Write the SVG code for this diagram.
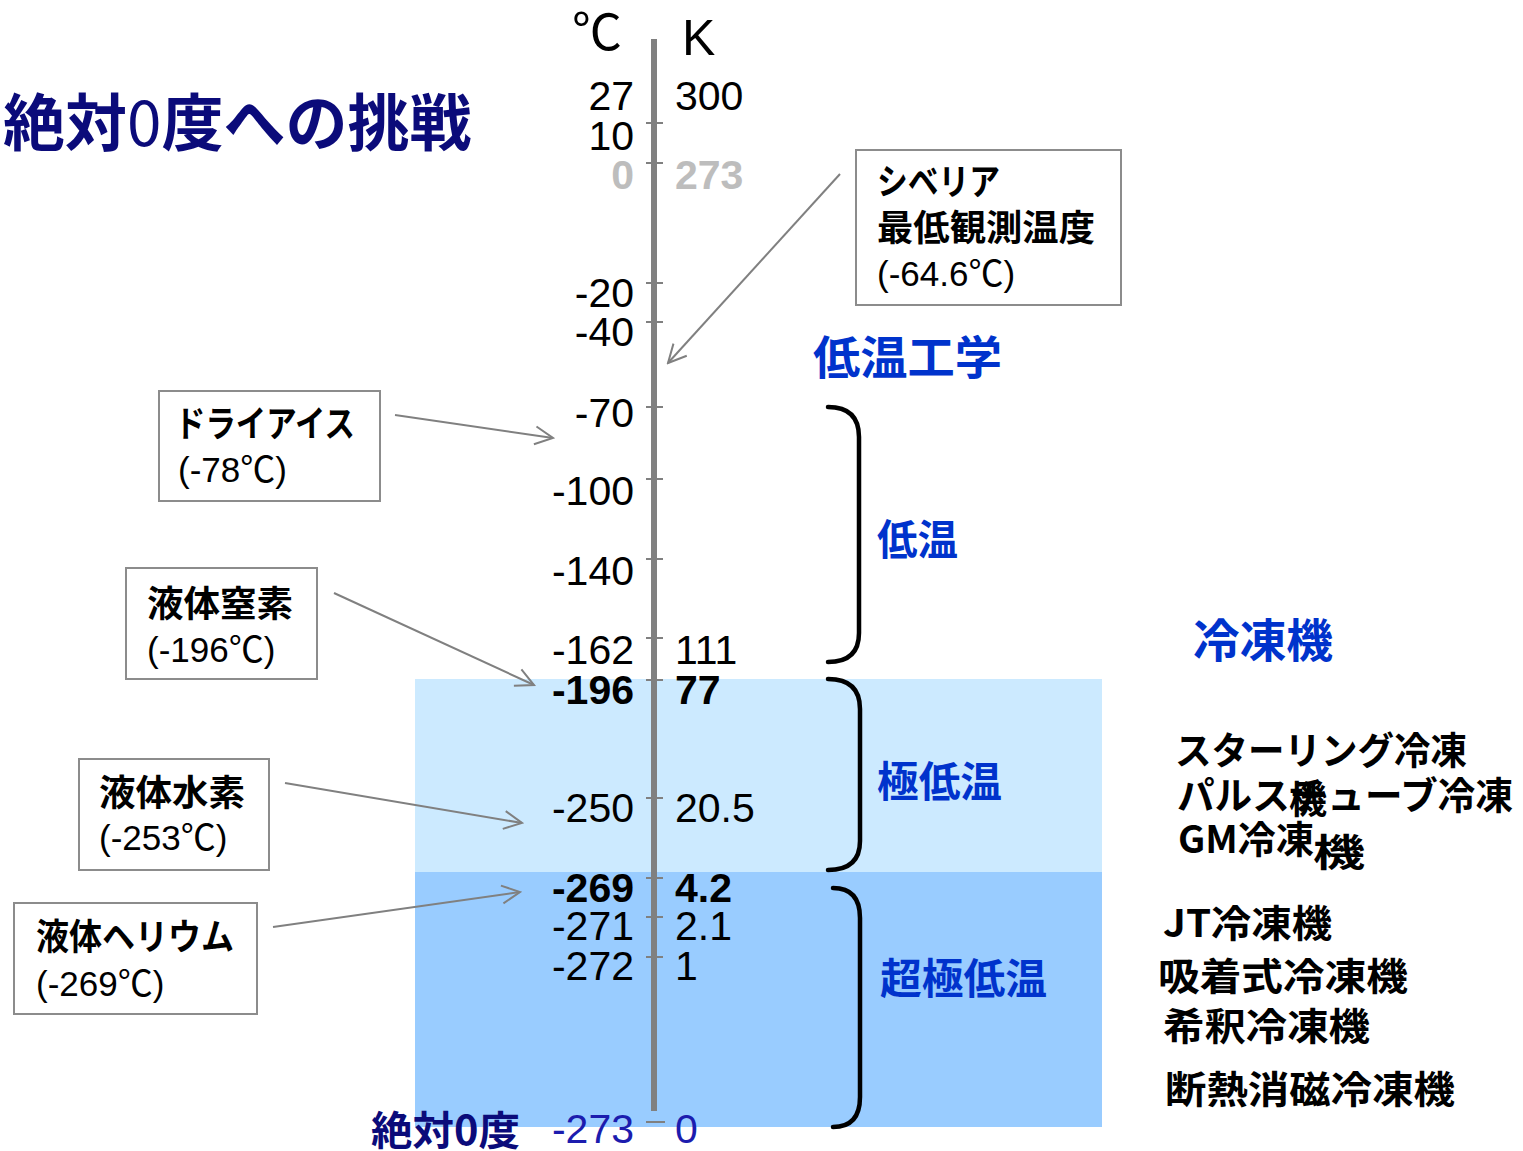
<svg xmlns="http://www.w3.org/2000/svg" width="1523" height="1151" viewBox="0 0 1523 1151">
<style>
  text { font-family: "Liberation Sans", "Noto Sans CJK JP", sans-serif; }
  .jp { font-family: "Noto Sans CJK JP", sans-serif; font-weight: bold; }
  .num { font-size: 41px; fill: #000; }
  .c { text-anchor: end; }
  .b { font-weight: bold; }
  .gray { fill: #bdbdbd; }
  .blue { fill: #0033cc; }
  .navy { fill: #0b0b7a; }
  .box { fill: #fff; stroke: #8c8c8c; stroke-width: 2; }
  .arr { fill: none; stroke: #808080; stroke-width: 2; marker-end: url(#ah); }
  .tick { stroke: #808080; stroke-width: 2; }
  .brace { fill: none; stroke: #000; stroke-width: 4.5; stroke-linecap: round; }
  .lbl1 { font-size: 36px; }
  .lbl2 { font-size: 35px; }
  .fr { font-size: 38px; fill: #000; }
</style>
<defs>
  <marker id="ah" viewBox="0 0 22 22" refX="20" refY="11" markerWidth="22" markerHeight="22" markerUnits="userSpaceOnUse" orient="auto">
    <path d="M2,2 L20,11 L2,20" fill="none" stroke="#808080" stroke-width="2"/>
  </marker>
</defs>
<rect width="1523" height="1151" fill="#fff"/>

<!-- background bands -->
<g id="bands">
  <rect x="415" y="679" width="687" height="193" fill="#cceaff"/>
  <rect x="415" y="872" width="687" height="255" fill="#99ccff"/>
</g>

<!-- title -->
<g id="title">
  <text class="jp navy" x="3" y="146" font-size="62">絶対<tspan font-weight="normal">0</tspan>度への挑戦</text>
</g>

<!-- axis -->
<g id="axis">
  <line x1="654" y1="39" x2="654" y2="1111" stroke="#808080" stroke-width="6"/>
  <line class="tick" x1="646" y1="123" x2="663" y2="123"/>
  <line class="tick" x1="646" y1="163" x2="663" y2="163"/>
  <line class="tick" x1="646" y1="283" x2="663" y2="283"/>
  <line class="tick" x1="646" y1="322" x2="663" y2="322"/>
  <line class="tick" x1="646" y1="407" x2="663" y2="407"/>
  <line class="tick" x1="646" y1="479" x2="663" y2="479"/>
  <line class="tick" x1="646" y1="559" x2="663" y2="559"/>
  <line class="tick" x1="646" y1="638" x2="663" y2="638"/>
  <line class="tick" x1="646" y1="680" x2="663" y2="680"/>
  <line class="tick" x1="646" y1="798" x2="663" y2="798"/>
  <line class="tick" x1="646" y1="878" x2="663" y2="878"/>
  <line class="tick" x1="646" y1="917" x2="663" y2="917"/>
  <line class="tick" x1="646" y1="957" x2="663" y2="957"/>
  <line class="tick" x1="646" y1="1122" x2="665" y2="1122"/>
  <text x="572" y="50" font-size="50" font-family="Noto Sans CJK JP, sans-serif">℃</text>
  <text x="682" y="55" font-size="50">K</text>
</g>

<!-- Celsius labels -->
<g id="celsius">
  <text class="num c" x="634" y="110">27</text>
  <text class="num c" x="634" y="150">10</text>
  <text class="num c b gray" x="634" y="189">0</text>
  <text class="num c" x="634" y="307">-20</text>
  <text class="num c" x="634" y="346">-40</text>
  <text class="num c" x="634" y="427">-70</text>
  <text class="num c" x="634" y="505">-100</text>
  <text class="num c" x="634" y="585">-140</text>
  <text class="num c" x="634" y="664">-162</text>
  <text class="num c b" x="634" y="704">-196</text>
  <text class="num c" x="634" y="822">-250</text>
  <text class="num c b" x="634" y="902">-269</text>
  <text class="num c" x="634" y="940">-271</text>
  <text class="num c" x="634" y="980">-272</text>
  <text class="num c" x="634" y="1143" style="fill:#1c1cae">-273</text>
</g>

<!-- Kelvin labels -->
<g id="kelvin">
  <text class="num" x="675" y="110">300</text>
  <text class="num b gray" x="675" y="189">273</text>
  <text class="num" x="675" y="664">111</text>
  <text class="num b" x="675" y="704">77</text>
  <text class="num" x="675" y="822">20.5</text>
  <text class="num b" x="675" y="902">4.2</text>
  <text class="num" x="675" y="940">2.1</text>
  <text class="num" x="675" y="980">1</text>
  <text class="num" x="675" y="1143" style="fill:#1c1cae">0</text>
</g>

<g id="zero-label">
  <text class="jp navy" x="371" y="1145" font-size="40" textLength="149" lengthAdjust="spacingAndGlyphs">絶対0度</text>
</g>

<!-- nodes: boxes -->
<g id="node-siberia">
  <rect class="box" x="856" y="150" width="265" height="155"/>
  <text class="jp lbl1" x="877" y="195" textLength="123" lengthAdjust="spacingAndGlyphs">シベリア</text>
  <text class="jp lbl1" x="877" y="241" textLength="218" lengthAdjust="spacingAndGlyphs">最低観測温度</text>
  <text class="lbl2" x="877" y="286">(-64.6℃)</text>
</g>
<g id="node-dryice">
  <rect class="box" x="159" y="391" width="221" height="110"/>
  <text class="jp lbl1" x="175" y="437" textLength="180" lengthAdjust="spacingAndGlyphs">ドライアイス</text>
  <text class="lbl2" x="178" y="482">(-78℃)</text>
</g>
<g id="node-n2">
  <rect class="box" x="126" y="568" width="191" height="111"/>
  <text class="jp lbl1" x="147" y="617" textLength="146" lengthAdjust="spacingAndGlyphs">液体窒素</text>
  <text class="lbl2" x="147" y="662">(-196℃)</text>
</g>
<g id="node-h2">
  <rect class="box" x="79" y="759" width="190" height="111"/>
  <text class="jp lbl1" x="99" y="806" textLength="146" lengthAdjust="spacingAndGlyphs">液体水素</text>
  <text class="lbl2" x="99" y="850">(-253℃)</text>
</g>
<g id="node-he">
  <rect class="box" x="14" y="903" width="243" height="111"/>
  <text class="jp lbl1" x="36" y="950" textLength="198" lengthAdjust="spacingAndGlyphs">液体ヘリウム</text>
  <text class="lbl2" x="36" y="996">(-269℃)</text>
</g>

<!-- connectors -->
<g id="connectors">
  <line class="arr" x1="840" y1="174" x2="668" y2="363"/>
  <line class="arr" x1="395" y1="415" x2="553" y2="438"/>
  <line class="arr" x1="334" y1="593" x2="534" y2="685"/>
  <line class="arr" x1="285" y1="783" x2="522" y2="823"/>
  <line class="arr" x1="273" y1="927" x2="520" y2="892"/>
</g>

<!-- braces -->
<g id="braces">
  <path class="brace" d="M828,407 Q859,407 859,437 L859,633 Q859,662 828,662"/>
  <path class="brace" d="M828,679 Q860,679 860,709 L860,841 Q860,870 828,870"/>
  <path class="brace" d="M833,888 Q860,888 860,918 L860,1097 Q860,1127 833,1127"/>
</g>

<!-- category labels -->
<g id="categories">
  <text class="jp blue" x="813" y="374" font-size="46" textLength="189" lengthAdjust="spacingAndGlyphs">低温工学</text>
  <text class="jp blue" x="877" y="555" font-size="42" textLength="81" lengthAdjust="spacingAndGlyphs">低温</text>
  <text class="jp blue" x="877" y="797" font-size="42" textLength="125" lengthAdjust="spacingAndGlyphs">極低温</text>
  <text class="jp blue" x="880" y="994" font-size="42" textLength="167" lengthAdjust="spacingAndGlyphs">超極低温</text>
  <text class="jp blue" x="1193" y="657" font-size="46" textLength="140" lengthAdjust="spacingAndGlyphs">冷凍機</text>
</g>

<!-- refrigerators -->
<g id="refrigerators">
  <text class="jp fr" x="1175" y="764" font-size="37" textLength="292" lengthAdjust="spacingAndGlyphs">スターリング冷凍</text>
  <text class="jp fr" x="1177" y="809" font-size="37" textLength="336" lengthAdjust="spacingAndGlyphs">パルスチューブ冷凍</text>
  <text class="jp fr" x="1289" y="813" font-size="40">機</text>
  <text class="jp fr" x="1178" y="853" font-size="37" textLength="136" lengthAdjust="spacingAndGlyphs">GM冷凍</text>
  <text class="jp fr" x="1313" y="866" font-size="42" textLength="52" lengthAdjust="spacingAndGlyphs">機</text>
  <text class="jp fr" x="1163" y="937" textLength="169" lengthAdjust="spacingAndGlyphs">JT冷凍機</text>
  <text class="jp fr" x="1158" y="990" textLength="250" lengthAdjust="spacingAndGlyphs">吸着式冷凍機</text>
  <text class="jp fr" x="1163" y="1040" textLength="207" lengthAdjust="spacingAndGlyphs">希釈冷凍機</text>
  <text class="jp fr" x="1165" y="1103" textLength="290" lengthAdjust="spacingAndGlyphs">断熱消磁冷凍機</text>
</g>
</svg>
